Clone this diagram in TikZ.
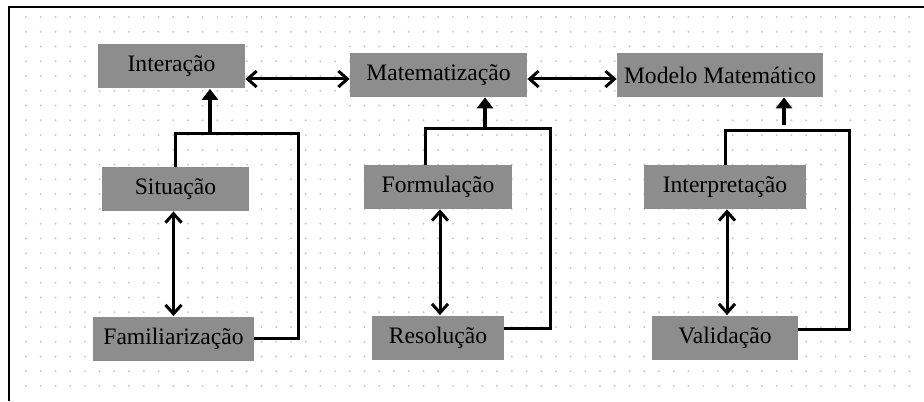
\documentclass[tikz,border=0pt]{standalone}
\usepackage{fontspec}
\setmainfont{Liberation Serif}
\usetikzlibrary{arrows.meta, calc, positioning}
\definecolor{boxgray}{RGB}{141,141,141}
\definecolor{dotgray}{RGB}{200,200,200}
\tikzset{
  etapa/.style={fill=boxgray, inner sep=0pt, minimum height=22pt,
    font=\fontsize{11.8}{13}\selectfont},
  liga/.style={line width=1.5pt},
  sobe/.style={line width=1.6pt, -{Triangle[length=5.5pt,width=8pt]}},
  duplo/.style={line width=1.5pt,
    {Straight Barb[length=4.5pt,width=8pt]}-{Straight Barb[length=4.5pt,width=8pt]}}
}

\begin{document}
\begin{tikzpicture}[x=0.5pt, y=-0.5pt]
        \useasboundingbox (0,0) rectangle (924,401);
        \foreach \i in {0,...,60}
          \foreach \j in {0,...,25}
            \fill[dotgray] (26+\i*14.72, 17+\j*14.76) circle (0.55pt);
        \draw[line width=0.75pt] (9,401) -- (9,7) -- (924,7);

        \node[etapa, minimum width=73.5pt] (inter) at (171.5,66.5) {Interação};
        \node[etapa, minimum width=88.5pt] (matem) at (438.5,75) {Matematização};
        \node[etapa, minimum width=103pt] (modelo) at (720,75) {Modelo Matemático};

        \node[etapa, minimum width=73.5pt] (situ) at (175.5,189) {Situação};
        \node[etapa, minimum width=74pt] (formu) at (438,187) {Formulação};
        \node[etapa, minimum width=81pt] (interp) at (725,187) {Interpretação};

        \node[etapa, minimum width=80.5pt] (famil) at (173.5,338.5) {Familiarização};
        \node[etapa, minimum width=66pt] (resol) at (438,337.5) {Resolução};
        \node[etapa, minimum width=73pt] (valid) at (725,337.5) {Validação};

        \coordinate (nivel) at (0,79);
        \draw[duplo] (inter.east |- nivel) -- (matem.west |- nivel);
        \draw[duplo] (matem.east |- nivel) -- (modelo.west |- nivel);

        \coordinate (cantoA) at (298,133);
        \coordinate (saidaA) at (210,133);
        \draw[liga] (situ.north) |- (cantoA) |- (famil.east);
        \draw[sobe] (saidaA) -- (saidaA |- inter.south);
        \draw[duplo] ([xshift=-1pt]situ.south) -- ([xshift=-1pt]situ.south |- famil.north);

        \coordinate (esqB) at (425,128);
        \coordinate (cantoB) at (550,128);
        \coordinate (saidaB) at (485,128);
        \draw[liga] (formu.north -| esqB) |- (cantoB) |- ([yshift=4.75pt]resol.east);
        \draw[sobe] (saidaB) -- (saidaB |- matem.south);
        \draw[duplo] ([xshift=1pt]formu.south) -- ([xshift=1pt]formu.south |- resol.north);

        \coordinate (cantoC) at (849,130);
        \coordinate (saidaC) at (784,125);
        \draw[liga] (interp.north) |- (cantoC) |- ([yshift=4.25pt]valid.east);
        \draw[sobe] (saidaC) -- (saidaC |- modelo.south);
        \draw[duplo] ([xshift=1pt]interp.south) -- ([xshift=1pt]interp.south |- valid.north);
\end{tikzpicture}
\end{document}
